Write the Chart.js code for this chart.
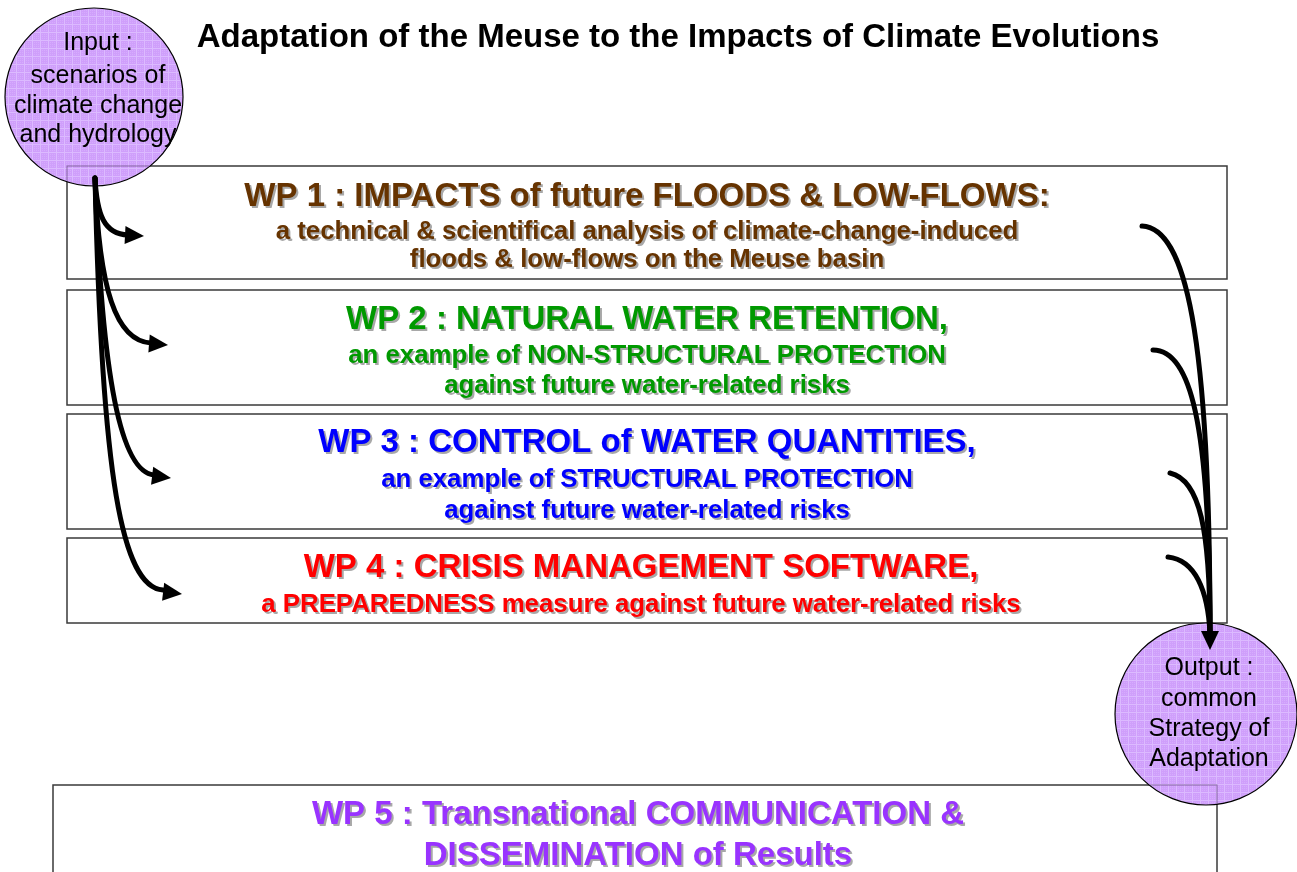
<!DOCTYPE html>
<html>
<head>
<meta charset="utf-8">
<title>AMICE work packages</title>
<script src="https://cdn.jsdelivr.net/npm/chart.js@4"></script>
<style>
  html, body { margin: 0; padding: 0; background: #fff; }
  #wrap { width: 1297px; height: 872px; position: relative; }
</style>
</head>
<body>
<div id="wrap"><canvas id="diagram"></canvas></div>
<script>
(function() {
  'use strict';

  // ── Content ──
  const TITLE = 'Adaptation of the Meuse to the Impacts of Climate Evolutions';
  const INPUT_TEXT = ['Input :', 'scenarios of', 'climate change', 'and hydrology'];
  const OUTPUT_TEXT = ['Output :', 'common', 'Strategy of', 'Adaptation'];
  const WP_HEADINGS = [
    'WP 1 : IMPACTS of future FLOODS & LOW-FLOWS:',
    'WP 2 : NATURAL WATER RETENTION,',
    'WP 3 : CONTROL of WATER QUANTITIES,',
    'WP 4 : CRISIS MANAGEMENT SOFTWARE,',
    'WP 5 : Transnational COMMUNICATION &'
  ];
  const WP_DETAILS = [
    ['a technical & scientifical analysis of climate-change-induced', 'floods & low-flows on the Meuse basin'],
    ['an example of NON-STRUCTURAL PROTECTION', 'against future water-related risks'],
    ['an example of STRUCTURAL PROTECTION', 'against future water-related risks'],
    ['a PREPAREDNESS measure against future water-related risks'],
    ['DISSEMINATION of Results']
  ];

  // ── Layout (axis units = page pixels) ──
  const W = 1297, H = 872;
  const FONT = '"Liberation Sans", Arial, sans-serif';
  const WP_COLORS = ['#663300', '#009900', '#0000ff', '#ff0000', '#9933ff'];
  const HEAD_SIZE = 33, SUB_SIZE = 25.8;
  const BOXES = [
    { x0: 67, x1: 1227, y0: 166, y1: 279, cx: 647, head: 197, lines: [232, 260], big: [false, false] },
    { x0: 67, x1: 1227, y0: 290, y1: 405, cx: 647, head: 320, lines: [356, 386], big: [false, false] },
    { x0: 67, x1: 1227, y0: 414, y1: 529, cx: 647, head: 443, lines: [480, 511], big: [false, false] },
    { x0: 67, x1: 1227, y0: 538, y1: 623, cx: 641, head: 568, lines: [605], big: [false] },
    { x0: 53, x1: 1217, y0: 785, y1: 920, cx: 638, head: 815, lines: [856], big: [true] }
  ];
  const NODES = [
    { x: 94, y: 97, r: 89, text: INPUT_TEXT, tx: 98, base: [50, 83, 113, 142] },
    { x: 1206, y: 714, r: 91, text: OUTPUT_TEXT, tx: 1209, base: [675, 706, 736, 766] }
  ];
  // cubic curves [start, c1, c2, end] + arrow tip
  const IN_ARROWS = [
    [[95, 178], [97, 215], [104, 234], [128, 235], [144, 236]],
    [[95, 178], [99, 290], [116, 341], [151, 343], [168, 345]],
    [[95, 178], [102, 380], [121, 472], [154, 475], [171, 478]],
    [[95, 178], [102, 480], [122, 587], [163, 590], [182, 594]]
  ];
  const OUT_ARROWS = [
    [[1142, 226], [1185, 228], [1210, 330], [1210, 634]],
    [[1153, 350], [1190, 350], [1210, 420], [1210, 634]],
    [[1170, 473], [1200, 480], [1210, 530], [1210, 634]],
    [[1168, 557], [1195, 560], [1208, 590], [1210, 634]]
  ];
  const OUT_TIP = [1210, 650];

  function hatch() {
    const c = document.createElement('canvas');
    c.width = 8; c.height = 8;
    const g = c.getContext('2d');
    g.fillStyle = '#cf9ffb';
    g.fillRect(0, 0, 8, 8);
    g.fillStyle = '#dcbaff';
    g.fillRect(0, 0, 8, 1);
    g.fillRect(0, 0, 1, 8);
    g.fillStyle = '#d6acfd';
    for (let i = 2; i < 8; i += 2) for (let j = 2; j < 8; j += 2) g.fillRect(i, j, 1, 1);
    return g.createPattern(c, 'repeat');
  }

  // ── Drawing helpers ──
  function px(chart, p) {
    return [chart.scales.x.getPixelForValue(p[0]), chart.scales.y.getPixelForValue(p[1])];
  }

  function strokeBoxes(chart, ctx, color, width) {
    ctx.strokeStyle = color;
    ctx.lineWidth = width;
    BOXES.forEach(function(b) {
      const a = px(chart, [b.x0, b.y0]), z = px(chart, [b.x1, b.y1]);
      ctx.strokeRect(a[0], a[1], z[0] - a[0], z[1] - a[1]);
    });
  }

  function shadowText(ctx, text, x, y, color) {
    ctx.fillStyle = '#a8a8a8';
    ctx.fillText(text, x + 2, y + 2);
    ctx.fillStyle = color;
    ctx.fillText(text, x, y);
  }

  function curve(chart, ctx, seg) {
    const p = seg.map(function(q) { return px(chart, q); });
    ctx.beginPath();
    ctx.moveTo(p[0][0], p[0][1]);
    ctx.bezierCurveTo(p[1][0], p[1][1], p[2][0], p[2][1], p[3][0], p[3][1]);
    ctx.stroke();
    return p;
  }

  function head(ctx, from, tip, len, half) {
    const ang = Math.atan2(tip[1] - from[1], tip[0] - from[0]);
    const bx = tip[0] - Math.cos(ang) * len, by = tip[1] - Math.sin(ang) * len;
    ctx.beginPath();
    ctx.moveTo(tip[0], tip[1]);
    ctx.lineTo(bx - Math.sin(ang) * half, by + Math.cos(ang) * half);
    ctx.lineTo(bx + Math.sin(ang) * half, by - Math.cos(ang) * half);
    ctx.closePath();
    ctx.fill();
  }

  const diagramPlugin = {
    id: 'diagram',
    beforeDatasetsDraw: function(chart) {
      const ctx = chart.ctx;
      ctx.save();
      strokeBoxes(chart, ctx, '#3a3a3a', 1.5);
      ctx.restore();
    },
    afterDatasetsDraw: function(chart) {
      const ctx = chart.ctx;
      ctx.save();

      // box lines seen through the circles
      NODES.forEach(function(n) {
        const c = px(chart, [n.x, n.y]);
        ctx.save();
        ctx.beginPath();
        ctx.arc(c[0], c[1], n.r - 1, 0, Math.PI * 2);
        ctx.clip();
        strokeBoxes(chart, ctx, 'rgba(70,50,90,0.55)', 1);
        ctx.restore();
      });

      // title
      ctx.textAlign = 'center';
      ctx.textBaseline = 'middle';
      ctx.font = 'bold 33px ' + FONT;
      ctx.fillStyle = '#000';
      const t = px(chart, [678, 38]);
      ctx.fillText(TITLE, t[0], t[1]);

      // work packages
      BOXES.forEach(function(b, i) {
        ctx.font = 'bold ' + HEAD_SIZE + 'px ' + FONT;
        let p = px(chart, [b.cx, b.head]);
        shadowText(ctx, WP_HEADINGS[i], p[0], p[1], WP_COLORS[i]);
        WP_DETAILS[i].forEach(function(line, k) {
          ctx.font = 'bold ' + (b.big[k] ? HEAD_SIZE : SUB_SIZE) + 'px ' + FONT;
          p = px(chart, [b.cx, b.lines[k]]);
          shadowText(ctx, line, p[0], p[1], WP_COLORS[i]);
        });
      });

      // circle labels
      ctx.textBaseline = 'alphabetic';
      ctx.font = '25px ' + FONT;
      ctx.fillStyle = '#000';
      NODES.forEach(function(n) {
        n.text.forEach(function(line, k) {
          const p = px(chart, [n.tx, n.base[k]]);
          ctx.fillText(line, p[0], p[1]);
        });
      });

      // arrows
      ctx.strokeStyle = '#000';
      ctx.fillStyle = '#000';
      ctx.lineWidth = 5;
      ctx.lineCap = 'round';
      IN_ARROWS.forEach(function(a) {
        const p = curve(chart, ctx, a.slice(0, 4));
        head(ctx, p[2], px(chart, a[4]), 19, 9);
      });
      OUT_ARROWS.forEach(function(a) { curve(chart, ctx, a); });
      head(ctx, px(chart, [1210, 600]), px(chart, OUT_TIP), 19, 9);

      ctx.restore();
    }
  };

  new Chart(document.getElementById('diagram'), {
    type: 'bubble',
    data: {
      datasets: [{
        data: NODES.map(function(n) { return { x: n.x, y: n.y, r: n.r }; }),
        backgroundColor: hatch(),
        borderColor: '#000',
        borderWidth: 1.2,
        clip: false
      }]
    },
    options: {
      responsive: true,
      maintainAspectRatio: false,
      animation: false,
      events: [],
      layout: { padding: 0, autoPadding: false },
      scales: {
        x: { type: 'linear', min: 0, max: W, display: false },
        y: { type: 'linear', min: 0, max: H, reverse: true, display: false }
      },
      plugins: { legend: { display: false }, tooltip: { enabled: false } }
    },
    plugins: [diagramPlugin]
  });
})();
</script>
</body>
</html>
